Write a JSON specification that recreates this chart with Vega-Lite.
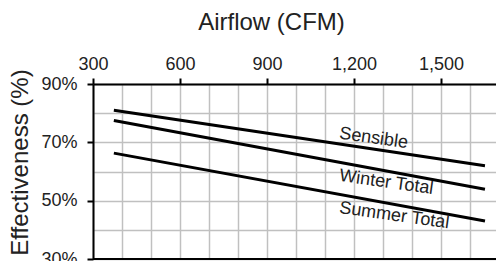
{
  "$schema": "https://vega.github.io/schema/vega-lite/v6.json",
  "autosize": "none",
  "width": 403,
  "height": 175,
  "padding": {"left": 93, "top": 84, "right": 0, "bottom": 2},
  "background": "white",
  "config": {
    "view": {"stroke": null},
    "font": "Liberation Sans",
    "axis": {"labelOverlap": false, "labelFlush": false, "labelBound": false}
  },
  "datasets": {
    "curves": [
      {"series": "Sensible", "cfm": 372, "eff": 81.0},
      {"series": "Sensible", "cfm": 1652, "eff": 62.0},
      {"series": "Winter Total", "cfm": 372, "eff": 77.5},
      {"series": "Winter Total", "cfm": 1652, "eff": 53.9},
      {"series": "Summer Total", "cfm": 372, "eff": 66.3},
      {"series": "Summer Total", "cfm": 1652, "eff": 43.0}
    ],
    "labels": [
      {"series": "Sensible", "cfm": 1150, "eff": 73.0},
      {"series": "Winter Total", "cfm": 1150, "eff": 58.5},
      {"series": "Summer Total", "cfm": 1150, "eff": 47.5}
    ]
  },
  "layer": [
    {
      "data": {"name": "curves"},
      "mark": {"type": "line", "color": "black", "strokeWidth": 3},
      "encoding": {
        "x": {
          "field": "cfm",
          "type": "quantitative",
          "scale": {"domain": [300, 1690], "nice": false, "zero": false},
          "axis": {
            "orient": "top",
            "values": [300, 400, 500, 600, 700, 800, 900, 1000, 1100, 1200, 1300, 1400, 1500, 1600],
            "tickCount": 30,
            "format": ",d",
            "labelExpr": "(datum.value - 300) % 300 == 0 ? datum.label : ''",
            "labelOverlap": false,
            "labelFlush": false,
            "grid": true,
            "gridColor": "#c0c0c0",
            "gridWidth": 1.5,
            "domainColor": "black",
            "domainWidth": 2,
            "tickColor": {"condition": {"test": "(datum.value - 300) % 300 == 0", "value": "black"}, "value": "transparent"},
            "tickSize": 6,
            "tickWidth": 2,
            "labelFontSize": 18,
            "labelColor": "#222",
            "labelPadding": 5,
            "title": "Airflow (CFM)",
            "titleFontSize": 24,
            "titleFontWeight": "normal",
            "titleColor": "#222",
            "titleX": 178,
            "titleY": -55,
            "titleBaseline": "alphabetic"
          }
        },
        "y": {
          "field": "eff",
          "type": "quantitative",
          "scale": {"domain": [30, 90], "nice": false, "zero": false},
          "axis": {
            "orient": "left",
            "values": [30, 40, 50, 60, 70, 80, 90],
            "tickCount": 30,
            "labelExpr": "datum.value % 20 == 10 ? datum.value + '%' : ''",
            "labelOverlap": false,
            "grid": true,
            "gridColor": "#c0c0c0",
            "gridWidth": 1.5,
            "domainColor": "black",
            "domainWidth": 2,
            "tickColor": {"condition": {"test": "datum.value % 20 == 10", "value": "black"}, "value": "transparent"},
            "tickSize": 6,
            "tickWidth": 2,
            "labelFontSize": 18,
            "labelColor": "#222",
            "labelPadding": 10,
            "title": "Effectiveness (%)",
            "titleFontSize": 24,
            "titleFontWeight": "normal",
            "titleColor": "#222",
            "titleAngle": -90,
            "titleX": -66,
            "titleY": 78,
            "titleBaseline": "alphabetic"
          }
        },
        "detail": {"field": "series", "type": "nominal"}
      }
    },
    {
      "data": {"name": "labels"},
      "mark": {"type": "text", "align": "left", "baseline": "middle", "angle": 8, "fontSize": 18, "font": "Liberation Sans", "color": "#222"},
      "encoding": {
        "x": {"field": "cfm", "type": "quantitative"},
        "y": {"field": "eff", "type": "quantitative"},
        "text": {"field": "series", "type": "nominal"}
      }
    },
    {
      "data": {"values": [{}]},
      "mark": {"type": "rule", "color": "black", "strokeWidth": 2},
      "encoding": {"y": {"datum": 30}}
    }
  ]
}
